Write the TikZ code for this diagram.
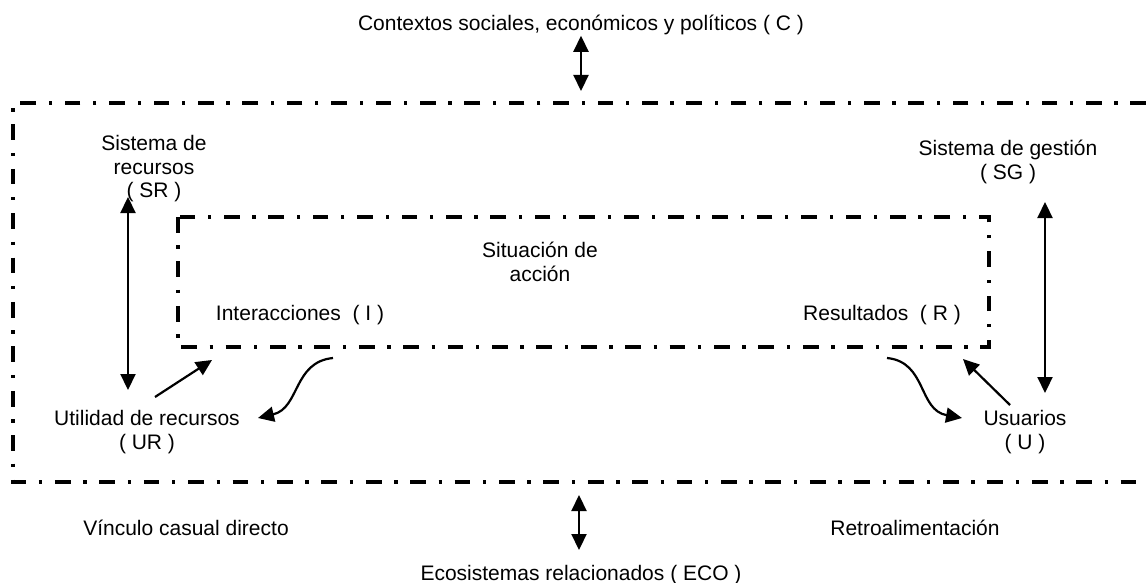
\documentclass[tikz,border=0pt]{standalone}
\usepackage{fontspec}
\setmainfont{Liberation Sans}
\usetikzlibrary{arrows.meta}

\tikzset{
  frame/.style={line width=2pt, dash pattern=on 7.85pt off 6.35pt on 1.65pt off 6.35pt},
  tip/.style={line width=1.1pt},
  lbl/.style={inner sep=0pt, font=\fontsize{10.5}{11.75}\selectfont, align=center},
}

\begin{document}
\begin{tikzpicture}[x=0.5pt,y=-0.5pt,>={Triangle[length=8pt,width=7.5pt]}]
    \useasboundingbox (0,0) rectangle (1146,583);
    \draw[frame] (1146,103) -- (13,103) -- (13,482) -- (1146,482);
    \draw[frame] (178,217) rectangle (989,347);

    \node[lbl,anchor=base]  (C)   at (581,31)   {Contextos sociales, económicos y políticos ( C )};
    \node[lbl,anchor=north] (SR)  at (154,135)  {Sistema de\\recursos\\( SR )};
    \node[lbl,anchor=north] (SG)  at (1008,140) {Sistema de gestión\\( SG )};
    \node[lbl,anchor=north] (SA)  at (540,242)  {Situación de\\acción};
    \node[lbl,anchor=base]  (I)   at (300,320)  {Interacciones\ \ ( I )};
    \node[lbl,anchor=base]  (R)   at (882,320)  {Resultados\ \ ( R )};
    \node[lbl,anchor=north] (UR)  at (147,410)  {Utilidad de recursos\\( UR )};
    \node[lbl,anchor=north] (U)   at (1025,410) {Usuarios\\( U )};
    \node[lbl,anchor=base]  (VC)  at (186,535)  {Vínculo casual directo};
    \node[lbl,anchor=base]  (RA)  at (915,535)  {Retroalimentación};
    \node[lbl,anchor=base]  (ECO) at (581,580)  {Ecosistemas relacionados ( ECO )};

    \coordinate (ctop) at (581,91);
    \coordinate (ebot) at (579,495);
    \coordinate (etop) at (579,550);
    \coordinate (sr1)  at (128,197);
    \coordinate (ur1)  at (128,390);
    \coordinate (ur2)  at (155,397);
    \coordinate (ia1)  at (212,360);
    \coordinate (ia2)  at (333,358);
    \coordinate (ur3)  at (258,418);
    \coordinate (sg1)  at (1045,202);
    \coordinate (u1)   at (1045,393);
    \coordinate (u2)   at (1010,405);
    \coordinate (ra1)  at (963,359);
    \coordinate (ra2)  at (887,358);
    \coordinate (u3)   at (962,418);

    \draw[tip] (C.south) edge[<->] (ctop);
    \draw[tip] (ebot) edge[<->] (etop);
    \draw[tip] (sr1) edge[<->] (ur1);
    \draw[tip] (sg1) edge[<->] (u1);
    \draw[tip] (ur2) edge[->] (ia1);
    \draw[tip] (u2) edge[->] (ra1);
    \draw[tip,->] (ia2) .. controls (293,362) and (300,408) .. (ur3);
    \draw[tip,->] (ra2) .. controls (927,362) and (918,410) .. (u3);
\end{tikzpicture}
\end{document}
